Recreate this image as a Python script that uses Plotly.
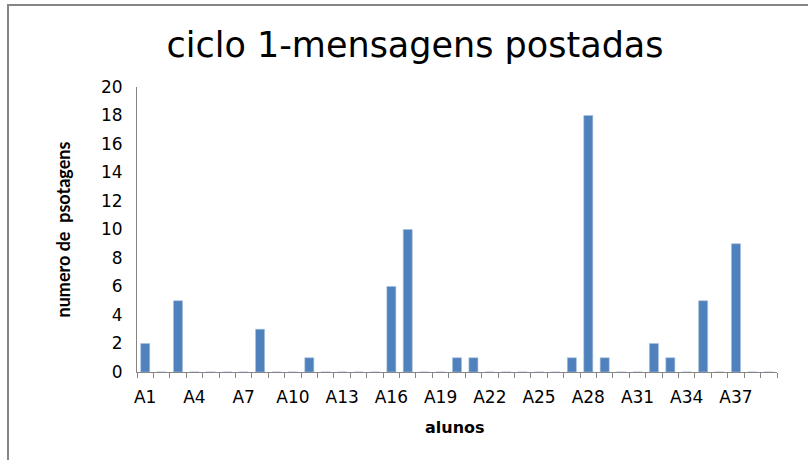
import plotly.graph_objects as go

categories = [f"A{i}" for i in range(1, 40)]
values = [2, 0, 5, 0, 0, 0, 0, 3, 0, 0,
          1, 0, 0, 0, 0, 6, 10, 0, 0, 1,
          1, 0, 0, 0, 0, 0, 1, 18, 1, 0,
          0, 2, 1, 0, 5, 0, 9, 0, 0]
tick_labels = [c if i % 3 == 0 else "" for i, c in enumerate(categories)]
y_ticks = list(range(0, 21, 2))

title_text = "ciclo 1-mensagens postadas"
x_title = "alunos"
y_title = "numero de  psotagens"

fig = go.Figure(go.Bar(
    x=categories, y=values,
    marker=dict(color="#4F81BD", line=dict(color="#A7C0DE", width=0.6)),
))

fig.update_layout(
    width=808, height=460,
    margin=dict(l=137, r=31, t=87, b=88, autoexpand=False),
    paper_bgcolor="white", plot_bgcolor="white",
    bargap=0.45,
    showlegend=False,
    title=dict(text=title_text, x=415/808, xanchor="center", y=1-45/460, yanchor="middle",
               font=dict(family="DejaVu Sans", size=35, color="#000000")),
    font=dict(family="DejaVu Sans", color="#000000"),
)
fig.update_xaxes(
    type="category", tickmode="array", tickvals=categories, ticktext=tick_labels,
    tickson="boundaries", ticks="outside", ticklen=5, tickcolor="#868686", tickangle=0,
    ticklabelstandoff=10,
    showline=True, linecolor="#868686", linewidth=1, showgrid=False, automargin=False,
    tickfont=dict(family="DejaVu Sans", size=17, color="#000000"),
    range=[-0.5, 38.5],
)
fig.update_yaxes(
    range=[0, 20], tickmode="array", tickvals=y_ticks, automargin=False,
    showline=True, linecolor="#868686", linewidth=1, showgrid=False, zeroline=False,
    ticks="", ticklabelstandoff=10,
    tickfont=dict(family="DejaVu Sans", size=17, color="#000000"),
)
fig.add_annotation(text=x_title, xref="paper", yref="paper", x=(455-137)/640, y=(372-427)/285,
                   xanchor="center", yanchor="middle", showarrow=False,
                   font=dict(family="DejaVu Sans", size=16, color="#000000", weight="bold"))
fig.add_annotation(text=y_title, xref="paper", yref="paper", x=(62-137)/640, y=0.5,
                   xanchor="center", yanchor="middle", showarrow=False, textangle=-90,
                   font=dict(family="Lato", size=18, color="#000000", weight="bold"))
fig.add_shape(type="rect", xref="paper", yref="paper",
              x0=(8-137)/640, x1=2, y0=-2, y1=(372-5)/285,
              line=dict(color="#868686", width=2), fillcolor="rgba(0,0,0,0)", layer="below")

fig.write_html("out.html", config={"displayModeBar": False},
               post_script="document.body.style.margin='0';")
